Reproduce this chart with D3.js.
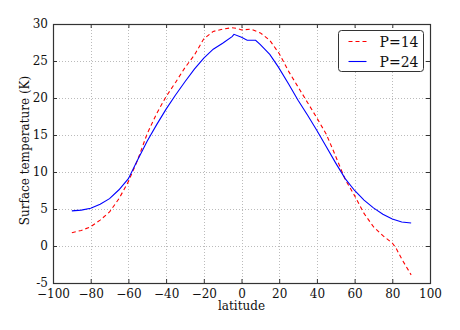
<!DOCTYPE html>
<html>
<head>
<meta charset="utf-8">
<script src="https://cdn.jsdelivr.net/npm/d3@7"></script>
<style>
  body { margin: 0; background: #fff; }
  svg { display: block; font-family: "DejaVu Serif", serif; }
</style>
</head>
<body>
<div id="chart"></div>
<script>
// values
var latP24 = [-90, -85, -80, -75, -70, -65, -60, -55, -50, -45, -40, -35, -30, -25, -20, -15, -10, -5, -4, 0, 3, 7.5, 10, 15, 19.5, 25, 30, 35, 40, 45, 50, 55, 60, 65, 70, 75, 80, 85, 90];
var tempP24 = [4.75, 4.85, 5.1, 5.65, 6.4, 7.6, 9.1, 11.7, 14.2, 16.4, 18.5, 20.4, 22.2, 23.9, 25.4, 26.6, 27.4, 28.3, 28.6, 28.2, 27.8, 27.8, 27.2, 25.9, 24.2, 21.9, 19.7, 17.7, 15.6, 13.4, 11.2, 9.1, 7.5, 6.2, 5.15, 4.3, 3.65, 3.25, 3.1];

var latP14 = [-90, -85, -80, -75, -70, -65, -60, -55, -50, -45, -40, -35, -30, -25, -20, -15, -10, -5, -2, 0, 5, 10, 15, 20, 25, 30, 35, 40, 45, 50, 55, 60, 65, 70, 75, 80, 82, 85, 90];
var tempP14 = [1.8, 2.1, 2.6, 3.5, 4.6, 6.4, 8.7, 11.7, 15.2, 17.9, 20.2, 22.1, 24.1, 25.8, 28.0, 29.0, 29.3, 29.5, 29.4, 29.2, 29.3, 28.8, 27.8, 26.0, 23.6, 21.5, 19.4, 17.3, 15.1, 12.1, 9.0, 6.8, 4.4, 2.6, 1.4, 0.4, -0.3, -1.75, -3.9];

var xTicks = [-100, -80, -60, -40, -20, 0, 20, 40, 60, 80, 100];
var yTicks = [-5, 0, 5, 10, 15, 20, 25, 30];
var seriesNames = ["P=14", "P=24"];

var width = 460,
    height = 330,
    margin = {top: 24, right: 30, bottom: 47, left: 53};

var w = width - margin.left - margin.right,
    h = height - margin.top - margin.bottom;

var x = d3.scaleLinear().domain([-100, 100]).range([0, w]);
var y = d3.scaleLinear().domain([-5, 30]).range([h, 0]);

var svg = d3.select("#chart").append("svg")
    .attr("width", width)
    .attr("height", height);

var g = svg.append("g")
    .attr("transform", "translate(" + margin.left + "," + margin.top + ")");

// dotted grid
g.append("g")
    .selectAll("line")
    .data(xTicks.slice(1, -1))
    .enter().append("line")
    .attr("x1", function (d) { return Math.round(x(d)) + 0.5; })
    .attr("x2", function (d) { return Math.round(x(d)) + 0.5; })
    .attr("y1", 0)
    .attr("y2", h)
    .attr("stroke", "#bbb")
    .attr("stroke-dasharray", "1,2");

g.append("g")
    .selectAll("line")
    .data(yTicks.slice(1, -1))
    .enter().append("line")
    .attr("y1", function (d) { return Math.round(y(d)) + 0.5; })
    .attr("y2", function (d) { return Math.round(y(d)) + 0.5; })
    .attr("x1", 0)
    .attr("x2", w)
    .attr("stroke", "#bbb")
    .attr("stroke-dasharray", "1,2");

// lines
var line = d3.line()
    .x(function (d) { return x(d[0]); })
    .y(function (d) { return y(d[1]); });

g.append("path")
    .datum(d3.zip(latP14, tempP14))
    .attr("d", line)
    .attr("fill", "none")
    .attr("stroke", "#ff0000")
    .attr("stroke-width", 1.1)
    .attr("stroke-dasharray", "4,3");

g.append("path")
    .datum(d3.zip(latP24, tempP24))
    .attr("d", line)
    .attr("fill", "none")
    .attr("stroke", "#0000ff")
    .attr("stroke-width", 1.1);

// axes, ticks pointing inward
var minus = function (d) { return d < 0 ? "\u2212" + Math.abs(d) : "" + d; };

var xAxis = g.append("g")
    .attr("transform", "translate(0," + h + ")")
    .call(d3.axisBottom(x).tickValues(xTicks).tickSizeInner(-4).tickSizeOuter(0).tickPadding(6).tickFormat(minus));

var xTop = g.append("g")
    .call(d3.axisTop(x).tickValues(xTicks).tickSizeInner(-4).tickSizeOuter(0).tickFormat(""));

var yAxis = g.append("g")
    .call(d3.axisLeft(y).tickValues(yTicks).tickSizeInner(-4).tickSizeOuter(0).tickPadding(5).tickFormat(function (d) { return "" + d; }));

var yRight = g.append("g")
    .attr("transform", "translate(" + w + ",0)")
    .call(d3.axisRight(y).tickValues(yTicks).tickSizeInner(-4).tickSizeOuter(0).tickFormat(""));

[xAxis, xTop, yAxis, yRight].forEach(function (a) {
    a.select(".domain").remove();
    a.selectAll("line").attr("stroke", "#333");
    a.selectAll("text")
        .attr("font-family", "DejaVu Serif, serif")
        .attr("font-size", 12)
        .attr("fill", "#111");
});

g.append("rect")
    .attr("x", 0.5)
    .attr("y", 0.5)
    .attr("width", w)
    .attr("height", h)
    .attr("fill", "none")
    .attr("stroke", "#333")
    .attr("stroke-width", 1.2);

// axis labels
svg.append("text")
    .attr("x", margin.left + w / 2)
    .attr("y", 310)
    .attr("text-anchor", "middle")
    .attr("font-size", 12)
    .attr("fill", "#111")
    .text("latitude");

svg.append("text")
    .attr("transform", "translate(29," + (margin.top + h / 2 - 3) + ")rotate(-90)")
    .attr("text-anchor", "middle")
    .attr("font-size", 12)
    .attr("fill", "#111")
    .text("Surface temperature (K)");

// legend
var legend = svg.append("g").attr("transform", "translate(338.5,30.5)");

legend.append("rect")
    .attr("width", 85)
    .attr("height", 41)
    .attr("rx", 3)
    .attr("fill", "#fff")
    .attr("stroke", "#333")
    .attr("stroke-width", 1);

var colors = ["#ff0000", "#0000ff"],
    dashes = ["4,3", null];

var item = legend.selectAll(".item")
    .data(seriesNames)
    .enter().append("g")
    .attr("class", "item")
    .attr("transform", function (d, i) { return "translate(0," + (11 + i * 20) + ")"; });

item.append("line")
    .attr("x1", 10)
    .attr("x2", 28)
    .attr("stroke", function (d, i) { return colors[i]; })
    .attr("stroke-width", 1.1)
    .attr("stroke-dasharray", function (d, i) { return dashes[i]; });

item.append("text")
    .attr("x", 80)
    .attr("y", 5)
    .attr("text-anchor", "end")
    .attr("font-size", 14)
    .attr("fill", "#111")
    .text(function (d) { return d; });
</script>
</body>
</html>
